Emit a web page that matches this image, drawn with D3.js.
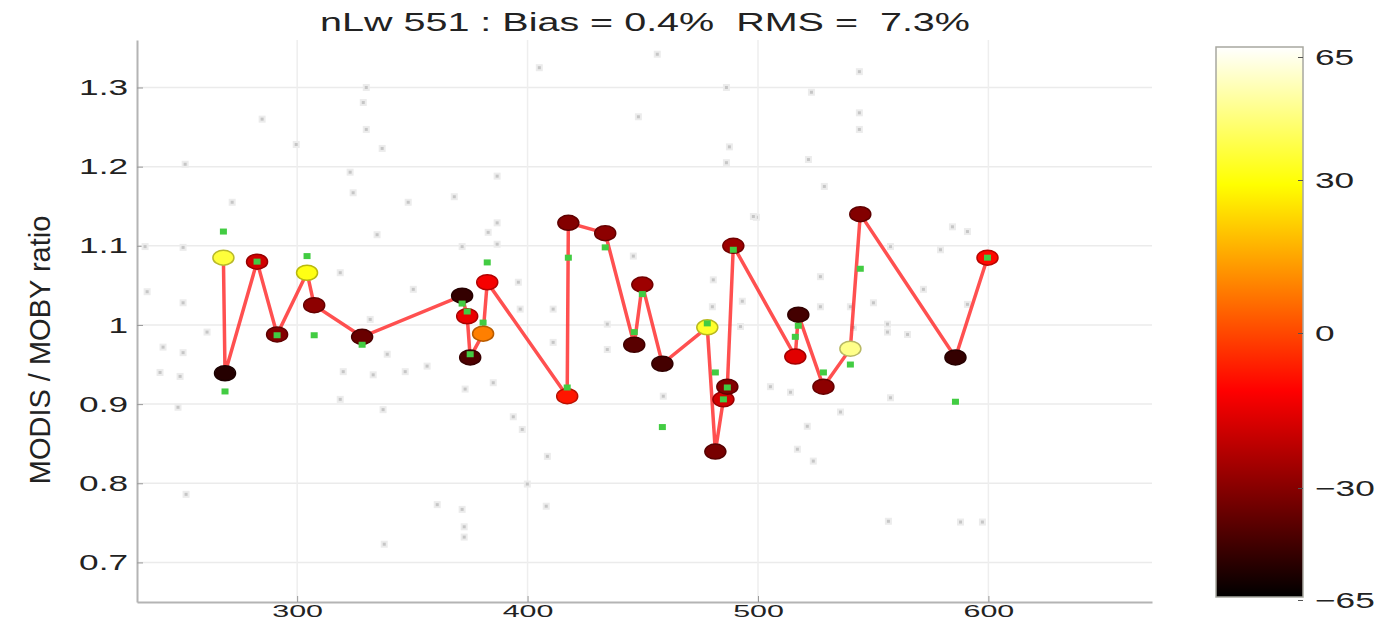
<!DOCTYPE html>
<html>
<head>
<meta charset="utf-8">
<script src="https://cdn.jsdelivr.net/npm/d3@7"></script>
<style>
  body { margin: 0; background: #fff; }
  text { font-family: "Liberation Sans", Arial, sans-serif; }
</style>
</head>
<body>
<div id="chart"></div>
<script>
// data
var matchX = [268, 268.7, 282.6, 291.3, 304.3, 307.4, 328.2, 371.6, 373.8, 375.1, 380.7, 382.5, 417.2, 417.7, 433.7,
              446.3, 449.8, 458.5, 478.0, 481.5, 485.0, 486.7, 489.3, 516.2, 517.5, 528.4, 540.1, 544.4, 585.7, 599.6];
var matchRatio = [1.085, 0.939, 1.080, 0.988, 1.066, 1.025, 0.985, 1.037, 1.011, 0.959, 0.989, 1.054, 0.910, 1.129, 1.116,
                  0.975, 1.051, 0.951, 0.997, 0.840, 0.906, 0.922, 1.100, 0.960, 1.013, 0.922, 0.970, 1.140, 0.959, 1.085];
var matchColor = [40, -58, -25, -40, 35, -38, -45, -55, -20, -50, 8, -18, -12, -40, -38,
                  -48, -35, -52, 38, -42, -25, -40, -35, -22, -52, -38, 50, -40, -55, -15];
var greenRatio = [1.118, 0.916, 1.080, 0.987, 1.087, 0.987, 0.975, 1.027, 1.017, 0.963, 1.003, 1.079, 0.921, 1.085, 1.098,
                  0.991, 1.039, 0.871, 1.002, 0.940, 0.906, 0.921, 1.095, 0.985, 0.999, 0.940, 0.950, 1.071, 0.903, 1.085];

var allX = [271.8, 330.0, 328.7, 330.0, 336.9, 323.0, 324.3, 348.2, 368.2, 386.8, 386.8, 405.1, 456.3, 448.1, 486.3, 523.2,
            544.0, 544.0, 544.0, 487.6, 486.3, 521.9, 528.8, 499.3, 584.4, 234.0, 250.5, 234.9, 250.5, 260.9, 241.8, 250.5,
            240.5, 249.2, 248.3, 320.0, 333.0, 339.1, 346.9, 356.4, 318.7, 337.3, 334.7, 318.7, 350.4, 331.7, 371.6, 382.9,
            386.8, 396.0, 396.8, 372.9, 385.1, 393.8, 397.7, 411.1, 411.1, 434.6, 434.6, 445.9, 480.6, 480.2, 493.2, 498.0,
            492.4, 505.4, 514.1, 527.1, 527.1, 540.1, 541.4, 556.2, 556.2, 557.5, 590.9, 590.9, 458.9, 408.6, 521.4, 517.1,
            524.0, 535.8, 550.1, 564.9, 571.8, 579.2, 557.5, 251.8, 337.8, 360.8, 372.5, 372.5, 399.9, 408.1, 556.6, 587.9,
            597.4, 371.6, 251.4, 284.8, 299.6];
var allRatio = [1.155, 1.300, 1.281, 1.247, 1.223, 1.193, 1.167, 1.155, 1.162, 1.188, 1.129, 1.325, 1.342, 1.263, 1.300, 1.294,
                1.320, 1.268, 1.247, 1.225, 1.205, 1.209, 1.175, 1.136, 1.124, 1.099, 1.098, 1.042, 1.028, 0.991, 0.972, 0.965,
                0.940, 0.935, 0.896, 0.941, 0.937, 0.963, 0.941, 0.948, 0.906, 0.893, 1.114, 1.066, 1.045, 1.007, 1.099, 1.117,
                1.102, 1.054, 1.020, 0.919, 0.927, 0.884, 0.868, 1.020, 0.978, 1.001, 0.969, 1.087, 1.057, 1.023, 1.030, 1.137,
                0.998, 0.922, 0.915, 1.023, 1.061, 1.023, 0.997, 1.001, 0.991, 0.908, 1.118, 1.026, 0.910, 0.834, 0.872, 0.843,
                0.828, 0.890, 1.028, 0.988, 1.045, 1.095, 1.099, 0.786, 0.723, 0.773, 0.745, 0.732, 0.799, 0.771, 0.752, 0.751,
                0.751, 0.767, 1.203, 1.260, 1.228];

var yTicks = [0.7, 0.8, 0.9, 1, 1.1, 1.2, 1.3];
var yTickLabels = ["0.7", "0.8", "0.9", "1", "1.1", "1.2", "1.3"];
var xTicks = [300, 400, 500, 600];
var cTicks = [-65, -30, 0, 30, 65];
var titleText = "nLw 551 : Bias = 0.4%  RMS =  7.3%";
var yLabel = "MODIS / MOBY ratio";

var W = 1399, H = 623;
var svg = d3.select("#chart").append("svg")
	.attr("width", W)
	.attr("height", H);

var x = d3.scaleLinear().domain([230.5, 671]).range([137, 1152]);
var y = d3.scaleLinear().domain([0.65, 1.36]).range([602, 40]);

// matlab "hot" colormap
function hot(v) {
	var t = (v + 65) / 130;
	var r = Math.min(1, t / 0.375);
	var g = Math.max(0, Math.min(1, (t - 0.375) / 0.375));
	var b = Math.max(0, Math.min(1, (t - 0.75) / 0.25));
	return d3.rgb(r * 255, g * 255, b * 255);
}

// stretch text horizontally, the picture is wider than tall
function stretch(sel, k) {
	sel.each(function() {
		var len = this.getComputedTextLength();
		d3.select(this).attr("textLength", len * k).attr("lengthAdjust", "spacingAndGlyphs");
	});
}

// grid
svg.append("g").selectAll("line")
	.data(yTicks).enter().append("line")
	.attr("x1", 137).attr("x2", 1152)
	.attr("y1", d => y(d)).attr("y2", d => y(d))
	.attr("stroke", "#ebebeb").attr("stroke-width", 1.5);
svg.append("g").selectAll("line")
	.data(xTicks).enter().append("line")
	.attr("x1", d => x(d)).attr("x2", d => x(d))
	.attr("y1", 40).attr("y2", 602)
	.attr("stroke", "#eeeeee").attr("stroke-width", 1.5);

// axes
var yAxis = svg.append("g")
	.attr("transform", "translate(137,0)")
	.call(d3.axisLeft(y).tickValues(yTicks).tickFormat((d, i) => yTickLabels[i]).tickSizeInner(-6).tickSizeOuter(0).tickPadding(9));
yAxis.select(".domain").attr("stroke", "#b4b4b4").attr("stroke-width", 2);
yAxis.selectAll(".tick line").attr("stroke", "#999");
yAxis.selectAll("text").attr("font-size", 22).attr("fill", "#222").call(stretch, 1.6);

// x labels: little room under the axis, keep them small so they fit
var xAxis = svg.append("g")
	.attr("transform", "translate(0,602)")
	.call(d3.axisBottom(x).tickValues(xTicks).tickSizeInner(-6).tickSizeOuter(0).tickPadding(4));
xAxis.select(".domain").attr("stroke", "#b4b4b4").attr("stroke-width", 2);
xAxis.selectAll(".tick line").attr("stroke", "#999");
xAxis.selectAll("text").attr("font-size", 16).attr("fill", "#222").call(stretch, 1.9);

// background cloud of points
svg.append("g").selectAll("rect")
	.data(allX).enter().append("rect")
	.attr("x", (d, i) => x(d) - 2.5)
	.attr("y", (d, i) => y(allRatio[i]) - 2.5)
	.attr("width", 5).attr("height", 5)
	.attr("fill", "#c6c6c6")
	.attr("stroke", "#ececec").attr("stroke-width", 2);

// red line through match-ups
var line = d3.line()
	.x((d, i) => x(d))
	.y((d, i) => y(matchRatio[i]));
svg.append("path")
	.attr("d", line(matchX))
	.attr("fill", "none")
	.attr("stroke", "#ff2424")
	.attr("stroke-opacity", 0.8)
	.attr("stroke-width", 3.5);

svg.append("g").selectAll("ellipse")
	.data(matchX).enter().append("ellipse")
	.attr("cx", d => x(d))
	.attr("cy", (d, i) => y(matchRatio[i]))
	.attr("rx", 10.5).attr("ry", 7.5)
	.attr("fill", (d, i) => hot(matchColor[i]))
	.attr("stroke", (d, i) => hot(matchColor[i]).darker(0.9))
	.attr("stroke-width", 1.5);

svg.append("g").selectAll("rect")
	.data(matchX).enter().append("rect")
	.attr("x", d => x(d) - 3.5)
	.attr("y", (d, i) => y(greenRatio[i]) - 3)
	.attr("width", 7).attr("height", 6)
	.attr("fill", "#42cc42");

// title
svg.append("text")
	.attr("x", 645).attr("y", 31)
	.attr("text-anchor", "middle")
	.attr("font-size", 25)
	.attr("fill", "#222")
	.style("white-space", "pre")
	.text(titleText)
	.call(stretch, 1.58);

// y label
svg.append("text")
	.attr("transform", "translate(50,350) rotate(-90)")
	.attr("text-anchor", "middle")
	.attr("font-size", 29)
	.attr("fill", "#222")
	.text(yLabel);

// colorbar
var defs = svg.append("defs");
var grad = defs.append("linearGradient")
	.attr("id", "hotGrad")
	.attr("x1", 0).attr("y1", 1).attr("x2", 0).attr("y2", 0);
[[0, "#000"], [0.375, "#f00"], [0.75, "#ff0"], [1, "#fff"]].forEach(s => {
	grad.append("stop").attr("offset", s[0]).attr("stop-color", s[1]);
});
svg.append("rect")
	.attr("x", 1216).attr("y", 47)
	.attr("width", 87).attr("height", 550)
	.attr("fill", "url(#hotGrad)")
	.attr("stroke", "#a8a8a0").attr("stroke-width", 1.5);

var c = d3.scaleLinear().domain(cTicks).range([600, 488, 333, 180, 57]);
var cAxis = svg.append("g")
	.attr("transform", "translate(1303,0)")
	.call(d3.axisRight(c).tickValues(cTicks).tickSizeInner(-5).tickSizeOuter(0).tickPadding(12));
cAxis.select(".domain").remove();
cAxis.selectAll(".tick line").attr("stroke", "#555");
cAxis.selectAll("text").attr("font-size", 22).attr("fill", "#222").call(stretch, 1.6);
</script>
</body>
</html>
